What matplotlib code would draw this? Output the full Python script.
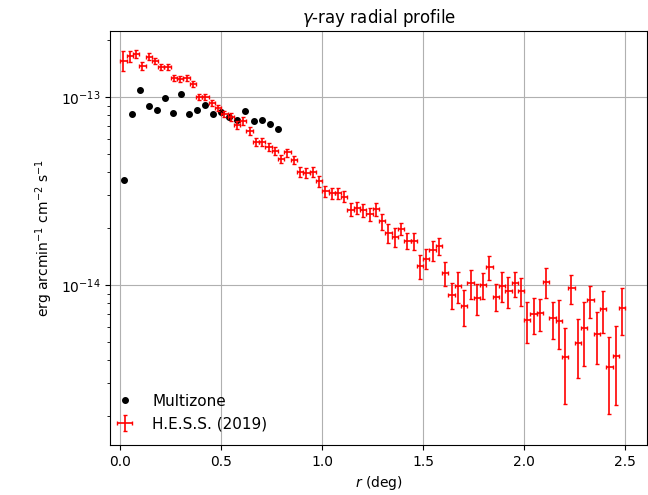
import matplotlib
matplotlib.use("Agg")
import matplotlib.pyplot as plt
import numpy as np

# Multizone model profile (0.04 deg steps)
model_r = [0.02, 0.06, 0.10, 0.14, 0.18, 0.22, 0.26, 0.30, 0.34, 0.38,
           0.42, 0.46, 0.50, 0.54, 0.58, 0.62, 0.66, 0.70, 0.74, 0.78]
model_flux = [3.62e-14, 8.12e-14, 1.086e-13, 8.92e-14, 8.53e-14, 9.91e-14,
              8.22e-14, 1.038e-13, 8.12e-14, 8.53e-14, 9.07e-14, 8.12e-14,
              8.32e-14, 7.85e-14, 7.55e-14, 8.46e-14, 7.48e-14, 7.57e-14,
              7.21e-14, 6.76e-14]

# H.E.S.S. (2019) profile, 1/32 deg bins out to 2.5 deg (flux in 1e-14 units)
hess_bin = 1.0 / 32
hess_r = (np.arange(80) + 0.5) * hess_bin
hess_flux = [15.6, 16.5, 16.9, 14.6, 16.4, 15.6, 14.5, 14.5, 12.7, 12.5,
             12.7, 11.8, 9.96, 9.96, 9.29, 8.77, 8.17, 7.86, 7.10, 7.44,
             6.57, 5.75, 5.76, 5.45, 5.18, 4.71, 5.07, 4.62, 4.01, 3.95,
             4.00, 3.56, 3.15, 3.07, 3.07, 2.95, 2.52, 2.58, 2.51, 2.39,
             2.53, 2.18, 1.90, 1.80, 1.99, 1.72, 1.72, 1.26, 1.38, 1.53,
             1.61, 1.16, 0.885, 0.988, 0.773, 1.02, 0.856, 1.00, 1.24, 0.867,
             0.992, 0.929, 1.02, 0.929, 0.651, 0.701, 0.707, 1.04, 0.665, 0.646,
             0.412, 0.960, 0.490, 0.589, 0.832, 0.549, 0.743, 0.367, 0.419, 0.755]
hess_err = [1.90, 1.11, 0.83, 0.72, 0.70, 0.57, 0.53, 0.53, 0.47, 0.46,
            0.47, 0.43, 0.37, 0.37, 0.34, 0.32, 0.30, 0.39, 0.35, 0.36,
            0.32, 0.28, 0.28, 0.27, 0.25, 0.23, 0.25, 0.23, 0.25, 0.24,
            0.24, 0.22, 0.21, 0.21, 0.21, 0.20, 0.20, 0.20, 0.20, 0.19,
            0.20, 0.22, 0.22, 0.21, 0.15, 0.17, 0.18, 0.18, 0.17, 0.18,
            0.16, 0.17, 0.14, 0.19, 0.17, 0.18, 0.16, 0.16, 0.18, 0.14,
            0.18, 0.17, 0.16, 0.16, 0.16, 0.15, 0.14, 0.19, 0.15, 0.19,
            0.18, 0.17, 0.17, 0.22, 0.16, 0.17, 0.19, 0.16, 0.19, 0.21]

fig = plt.figure(figsize=(6.48, 4.95), dpi=100)
ax = fig.add_axes([0.170, 0.101, 0.829, 0.836])

ax.plot(model_r, model_flux, "o", color="black", markersize=4, label="Multizone")
ax.errorbar(hess_r, np.array(hess_flux) * 1e-14,
            xerr=hess_bin / 2, yerr=np.array(hess_err) * 1e-14,
            fmt="none", ecolor="red", elinewidth=1.2, capsize=1.5,
            label="H.E.S.S. (2019)")

ax.set_yscale("log")
ax.set_xlim(-0.05, 2.61)
ax.set_ylim(1.41e-15, 2.24e-13)
ax.grid(True, which="major", color="#b0b0b0", linewidth=0.8)
ax.set_axisbelow(True)

ax.set_title(r"$\gamma$-ray radial profile", fontsize=12)
ax.set_xlabel(r"$r$ (deg)")
ax.set_ylabel(r"erg arcmin$^{-1}$ cm$^{-2}$ s$^{-1}$")
ax.legend(loc="lower left", bbox_to_anchor=(-0.027, 0.0), frameon=False,
          fontsize=11, handletextpad=0.8)

fig.savefig("out.png", dpi=100)
